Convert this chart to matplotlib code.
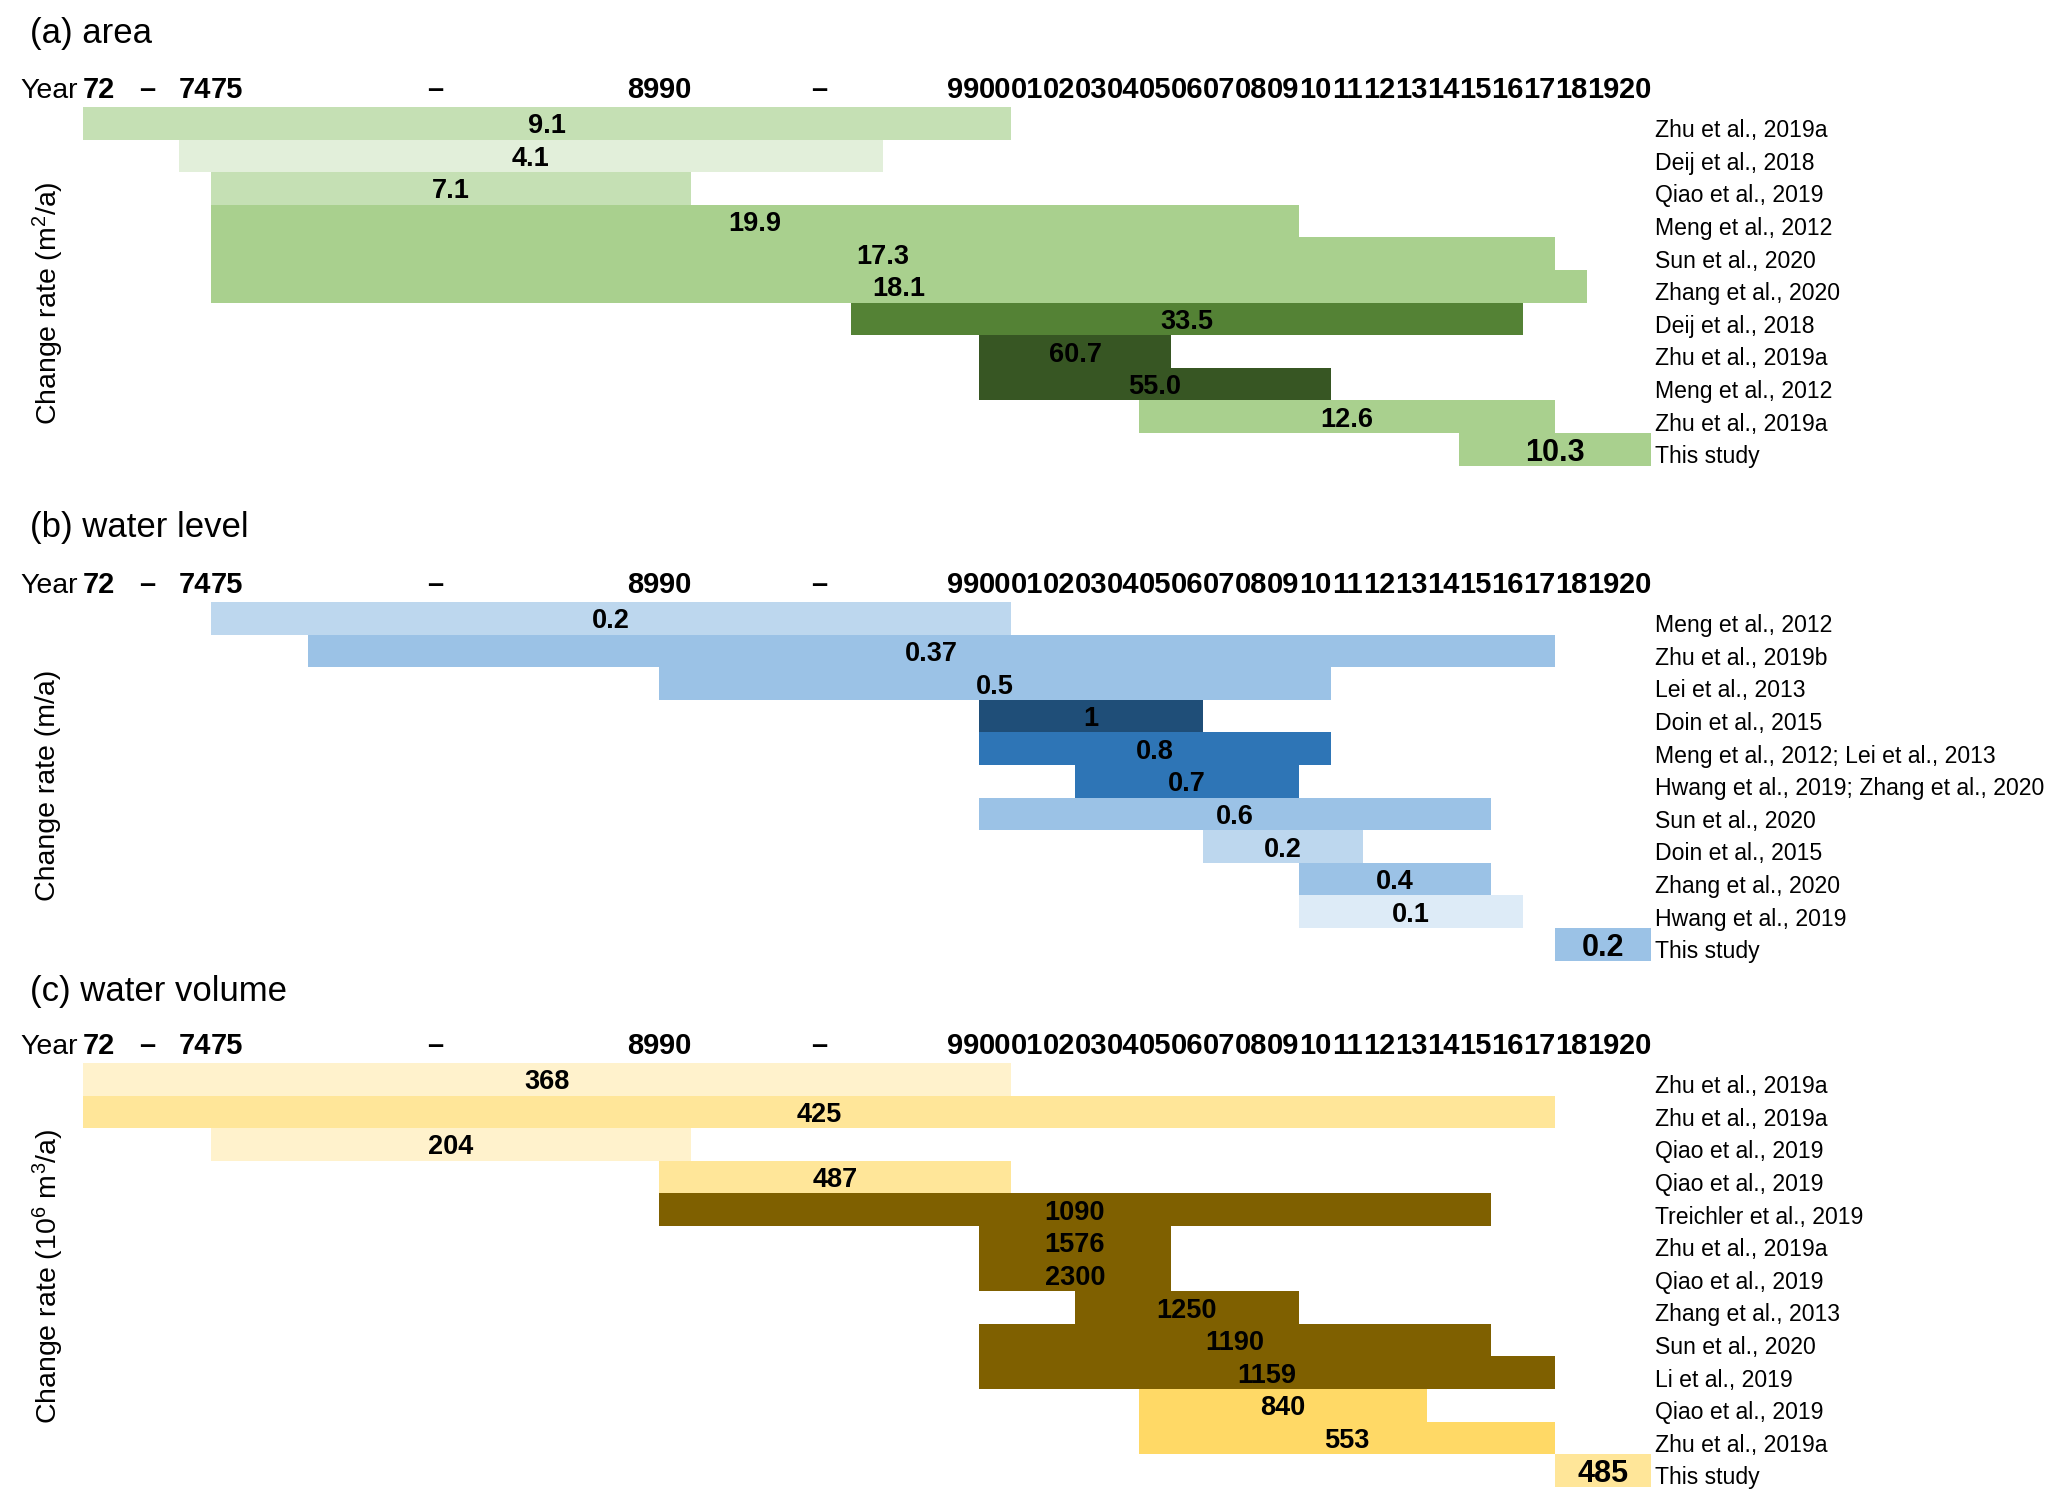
import numpy as np
import matplotlib
matplotlib.use('Agg')
import matplotlib.pyplot as plt

plt.rcParams['font.family'] = ['Liberation Sans', 'DejaVu Sans']
plt.rcParams['mathtext.fontset'] = 'custom'
plt.rcParams['mathtext.rm'] = 'Liberation Sans'
plt.rcParams['mathtext.it'] = 'Liberation Sans:italic'
plt.rcParams['mathtext.bf'] = 'Liberation Sans:bold'

#------------------------------------------------------
# Year header : label, first year of the column, column width
#------------------------------------------------------
year_labels = ['72', '–', '74', '75', '–', '89', '90', '–',
               '99', '00', '01', '02', '03', '04', '05', '06', '07', '08', '09', '10',
               '11', '12', '13', '14', '15', '16', '17', '18', '19', '20']
col_first_year = [1972, 1973, 1974, 1975, 1976, 1989, 1990, 1991] + list(range(1999, 2021))
col_width = [1, 2, 1, 1, 12, 1, 1, 8] + [1] * 22

#------------------------------------------------------
# (a) area
#------------------------------------------------------
area_start = [1972, 1974, 1975, 1975, 1975, 1975, 1996, 2000, 2000, 2005, 2015]
area_end = [2001, 1997, 1991, 2010, 2018, 2019, 2017, 2006, 2011, 2018, 2021]
area_rate = ['9.1', '4.1', '7.1', '19.9', '17.3', '18.1', '33.5', '60.7', '55.0', '12.6', '10.3']
area_ref = ['Zhu et al., 2019a', 'Deij et al., 2018', 'Qiao et al., 2019', 'Meng et al., 2012',
            'Sun et al., 2020', 'Zhang et al., 2020', 'Deij et al., 2018', 'Zhu et al., 2019a',
            'Meng et al., 2012', 'Zhu et al., 2019a', 'This study']
area_colors = ['#C5E0B4', '#E2EFDA', '#C5E0B4', '#A9D08E', '#A9D08E', '#A9D08E',
               '#548235', '#375623', '#375623', '#A9D08E', '#A9D08E']

#------------------------------------------------------
# (b) water level
#------------------------------------------------------
level_start = [1975, 1978.2, 1990, 2000, 2000, 2003, 2000, 2007, 2010, 2010, 2018]
level_end = [2001, 2018, 2011, 2007, 2011, 2010, 2016, 2012, 2016, 2017, 2021]
level_rate = ['0.2', '0.37', '0.5', '1', '0.8', '0.7', '0.6', '0.2', '0.4', '0.1', '0.2']
level_ref = ['Meng et al., 2012', 'Zhu et al., 2019b', 'Lei et al., 2013', 'Doin et al., 2015',
             'Meng et al., 2012; Lei et al., 2013', 'Hwang et al., 2019; Zhang et al., 2020',
             'Sun et al., 2020', 'Doin et al., 2015', 'Zhang et al., 2020', 'Hwang et al., 2019',
             'This study']
level_colors = ['#BDD7EE', '#9BC2E6', '#9BC2E6', '#1F4E78', '#2E75B6', '#2E75B6',
                '#9BC2E6', '#BDD7EE', '#9BC2E6', '#DDEBF7', '#9BC2E6']

#------------------------------------------------------
# (c) water volume
#------------------------------------------------------
volume_start = [1972, 1972, 1975, 1990, 1990, 2000, 2000, 2003, 2000, 2000, 2005, 2005, 2018]
volume_end = [2001, 2018, 1991, 2001, 2016, 2006, 2006, 2010, 2016, 2018, 2014, 2018, 2021]
volume_rate = ['368', '425', '204', '487', '1090', '1576', '2300', '1250', '1190', '1159',
               '840', '553', '485']
volume_ref = ['Zhu et al., 2019a', 'Zhu et al., 2019a', 'Qiao et al., 2019', 'Qiao et al., 2019',
              'Treichler et al., 2019', 'Zhu et al., 2019a', 'Qiao et al., 2019',
              'Zhang et al., 2013', 'Sun et al., 2020', 'Li et al., 2019', 'Qiao et al., 2019',
              'Zhu et al., 2019a', 'This study']
volume_colors = ['#FFF2CC', '#FFE699', '#FFF2CC', '#FFE699', '#7F6000', '#7F6000', '#7F6000',
                 '#7F6000', '#7F6000', '#7F6000', '#FFD966', '#FFD966', '#FFE699']


W, H = 2067, 1506
ROW = 32.6          # row height in pixels
LEFT, AXW = 83, 1568

edges = np.concatenate([[0], np.cumsum(col_width)])
centers = edges[:-1] + np.array(col_width) / 2.0


def year_to_x(year):
    """ Map a year boundary onto the column axis of the header """
    return np.interp(year, col_first_year + [2021], edges)


def draw_panel(fig, top, title, title_y, ylabel, ylabel_y, start, end, rate, ref, colors):
    n = len(rate)
    ax = fig.add_axes([LEFT / W, 1 - (top + n * ROW) / H, AXW / W, n * ROW / H])

    xs = year_to_x(np.array(start, dtype=float))
    xe = year_to_x(np.array(end, dtype=float))
    y = np.arange(n) + 0.5
    ax.barh(y, xe - xs, left=xs, height=1.0, color=colors, edgecolor='none', linewidth=0)

    for i in range(n):
        big = ref[i] == 'This study'
        ax.text((xs[i] + xe[i]) / 2, y[i], rate[i], ha='center', va='center_baseline',
                fontweight='bold', fontsize=22 if big else 19.5)
        ax.text(edges[-1] + 0.12, y[i] + 0.15, ref[i], ha='left', va='center_baseline',
                fontsize=16.6, clip_on=False)

    ax.set_xlim(0, edges[-1])
    ax.set_ylim(n, 0)
    ax.set_yticks([])
    ax.set_xticks(centers, labels=year_labels, fontweight='bold', fontsize=21)
    ax.tick_params(axis='x', length=0, pad=2, top=True, labeltop=True,
                   bottom=False, labelbottom=False)
    for s in ax.spines.values():
        s.set_visible(False)

    fig.text(78 / W, 1 - (top - 9) / H, 'Year', fontsize=20.5, ha='right', va='baseline')
    fig.text(30 / W, 1 - title_y / H, title, fontsize=25, ha='left', va='center')
    fig.text(48 / W, 1 - ylabel_y / H, ylabel, fontsize=20.5, rotation=90,
             ha='center', va='center')
    return ax


fig = plt.figure(figsize=(W / 100, H / 100), dpi=100)

draw_panel(fig, 107, '(a) area', 33, r'Change rate (m$^{\mathregular{2}}$/a)', 303,
           area_start, area_end, area_rate, area_ref, area_colors)
draw_panel(fig, 602, '(b) water level', 527, 'Change rate (m/a)', 785,
           level_start, level_end, level_rate, level_ref, level_colors)
draw_panel(fig, 1063, '(c) water volume', 991,
           r'Change rate (10$^{\mathregular{6}}$ m$^{\mathregular{3}}$/a)', 1276,
           volume_start, volume_end, volume_rate, volume_ref, volume_colors)

fig.savefig('out.png', dpi=100)
